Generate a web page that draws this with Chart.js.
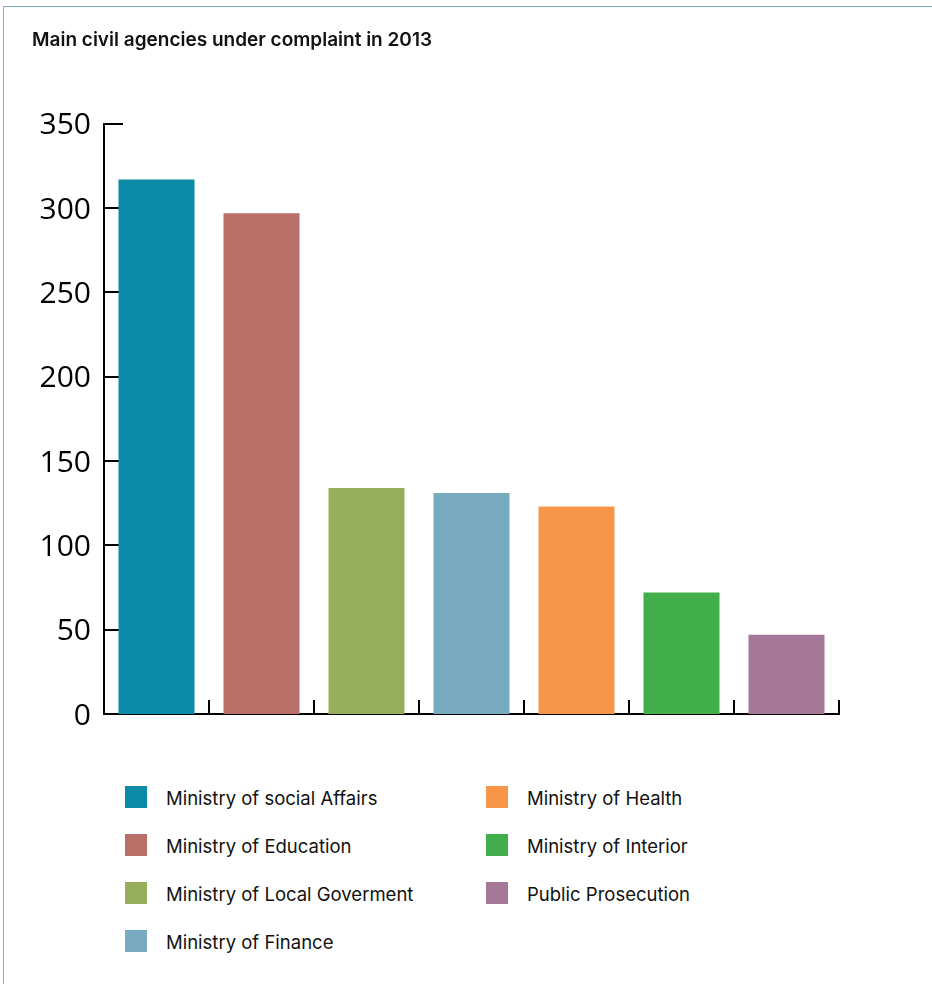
<!DOCTYPE html>
<html>
<head>
<meta charset="utf-8">
<script src="https://cdn.jsdelivr.net/npm/chart.js@4/dist/chart.umd.min.js"></script>
<style>
  html, body { margin: 0; padding: 0; background: #fff; }
  #page { position: relative; width: 932px; height: 984px; overflow: hidden; }
  #frame {
    position: absolute; left: 3px; top: 6px; right: -2px; bottom: -2px;
    border-top: 1px solid #7fb0cc; border-left: 1px solid #7fb0cc;
  }
  #chart { position: absolute; left: 0; top: 0; }
  #legend {
    position: absolute; left: 125px; top: 786px;
    display: grid; grid-auto-flow: column;
    grid-template-rows: repeat(4, 48px);
    grid-template-columns: 361px auto;
    font-family: Inter, "Liberation Sans", sans-serif; font-size: 18.5px; color: #111;
  }
  .item { display: flex; align-items: flex-start; height: 48px; }
  .swatch { width: 22px; height: 22px; flex: none; }
  .label { margin-left: 19px; line-height: 22px; position: relative; top: 1px; white-space: nowrap; }
</style>
</head>
<body>
<div id="page">
  <div id="frame"></div>
  <canvas id="chart" width="932" height="740"></canvas>
  <div id="legend"></div>
</div>
<script>
"use strict";

// Complaints per agency, 2013
const agencies = [
  "Ministry of social Affairs",
  "Ministry of Education",
  "Ministry of Local Goverment",
  "Ministry of Finance",
  "Ministry of Health",
  "Ministry of Interior",
  "Public Prosecution",
];
const complaints = [317, 297, 134, 131, 123, 72, 47];
const barColors = ["#0b8ba6", "#bb6f69", "#97ae5a", "#78aac0", "#f79548", "#42ae4b", "#a57897"];
const yMax = 350;
const yStep = 50;
const chartTitle = "Main civil agencies under complaint in 2013";

// Short inward tick marks: y ticks point right, x ticks point up at category edges
const axisTicks = {
  id: "axisTicks",
  beforeDatasetsDraw(chart) {
    const { ctx, scales: { x, y } } = chart;
    ctx.save();
    ctx.strokeStyle = "#000";
    ctx.lineWidth = 2;
    ctx.beginPath();
    y.ticks.forEach((_, i) => {
      const py = Math.round(y.getPixelForTick(i));
      ctx.moveTo(x.left, py);
      ctx.lineTo(x.left + 19, py);
    });
    const band = (x.right - x.left) / agencies.length;
    agencies.forEach((_, i) => {
      const px = Math.round(x.getPixelForValue(i) + band / 2);
      ctx.moveTo(px, y.bottom);
      ctx.lineTo(px, y.bottom - 14);
    });
    ctx.stroke();
    ctx.restore();
  },
};

new Chart(document.getElementById("chart").getContext("2d"), {
  type: "bar",
  data: {
    labels: agencies,
    datasets: [{
      data: complaints,
      backgroundColor: barColors,
      borderWidth: 0,
      categoryPercentage: 1,
      barPercentage: 0.724,
    }],
  },
  options: {
    responsive: false,
    animation: false,
    layout: { padding: { left: 32, right: 93, top: 0, bottom: 26 } },
    plugins: {
      legend: { display: false },
      tooltip: { enabled: false },
      title: {
        display: true,
        text: chartTitle,
        align: "start",
        color: "#111",
        font: { family: "Inter", size: 19, weight: "600" },
        padding: { top: 29, bottom: 72 },
      },
    },
    scales: {
      x: {
        grid: { display: false },
        ticks: { display: false },
        border: { display: true, color: "#000", width: 2 },
        afterFit(scale) { scale.height = 0; },
      },
      y: {
        min: 0,
        max: yMax,
        grid: { display: false },
        border: { display: true, color: "#000", width: 2 },
        ticks: {
          stepSize: yStep,
          padding: 5,
          labelOffset: 2,
          color: "#000",
          font: { family: "Open Sans", size: 30 },
        },
        afterFit(scale) { scale.width = 72; },
      },
    },
  },
  plugins: [axisTicks],
});

// Two-column legend, filled top to bottom
const legendEl = document.getElementById("legend");
agencies.forEach((name, i) => {
  const item = document.createElement("div");
  item.className = "item";
  const sw = document.createElement("span");
  sw.className = "swatch";
  sw.style.background = barColors[i];
  const txt = document.createElement("span");
  txt.className = "label";
  txt.textContent = name;
  item.append(sw, txt);
  legendEl.appendChild(item);
});
</script>
</body>
</html>
